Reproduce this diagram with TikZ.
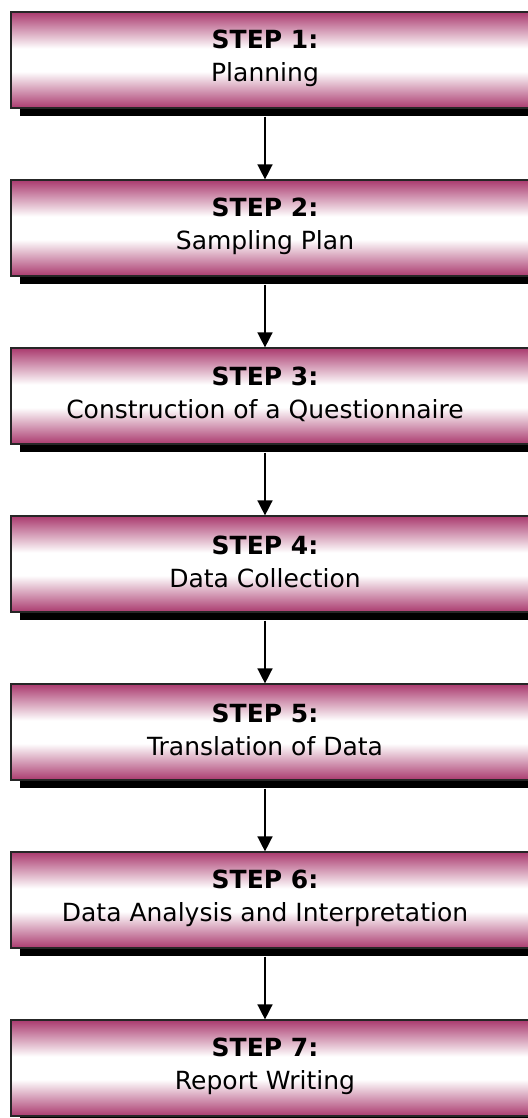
\documentclass[tikz,border=0pt]{standalone}
\usepackage{fontspec}
\newfontfamily\stepfont{DejaVu Sans}
\usepackage{tikz}
\usetikzlibrary{arrows.meta,shadows}

\definecolor{steppink}{HTML}{AA3A6E}
\pgfdeclareverticalshading{stepshade}{100bp}{color(0bp)=(steppink); color(25bp)=(steppink); color(44bp)=(white); color(56bp)=(white); color(75bp)=(steppink); color(100bp)=(steppink)}

\tikzset{
  stepbox/.style={rectangle, draw=black!85, line width=1.2pt, shading=stepshade,
    minimum width=529pt, minimum height=96pt, inner sep=0pt,
    drop shadow={shadow xshift=9pt, shadow yshift=-8pt, fill=black, opacity=1}},
  steptext/.style={align=center, inner sep=0pt, font=\stepfont\fontsize{25}{33}\selectfont}
}

\begin{document}
\begin{tikzpicture}[>={Triangle[length=15pt,width=15pt]},shorten <=8pt,line width=1.5pt,x=1pt,y=1pt,node distance=168pt]
  \useasboundingbox (0,0) rectangle (527,-1118);

  \node[stepbox] (s1) at (275.5,-60) {};
  \node[stepbox] (s2) [below of=s1] {};
  \node[stepbox] (s3) [below of=s2] {};
  \node[stepbox] (s4) [below of=s3] {};
  \node[stepbox] (s5) [below of=s4] {};
  \node[stepbox] (s6) [below of=s5] {};
  \node[stepbox] (s7) [below of=s6] {};

  \node[steptext] (t1) at (265,-58) {\textbf{STEP 1:}\\Planning};
  \node[steptext] (t2) [below of=t1] {\textbf{STEP 2:}\\Sampling Plan};
  \node[steptext] (t3) [below of=t2] {\textbf{STEP 3:}\\Construction of a Questionnaire};
  \node[steptext] (t4) [below of=t3] {\textbf{STEP 4:}\\Data Collection};
  \node[steptext] (t5) [below of=t4] {\textbf{STEP 5:}\\Translation of Data};
  \node[steptext] (t6) [below of=t5] {\textbf{STEP 6:}\\Data Analysis and Interpretation};
  \node[steptext] (t7) [below of=t6] {\textbf{STEP 7:}\\Report Writing};

  \path[->] (s1.south -| t1) edge (s2.north -| t1)
            (s2.south -| t2) edge (s3.north -| t2)
            (s3.south -| t3) edge (s4.north -| t3)
            (s4.south -| t4) edge (s5.north -| t4)
            (s5.south -| t5) edge (s6.north -| t5)
            (s6.south -| t6) edge (s7.north -| t6);
\end{tikzpicture}
\end{document}
